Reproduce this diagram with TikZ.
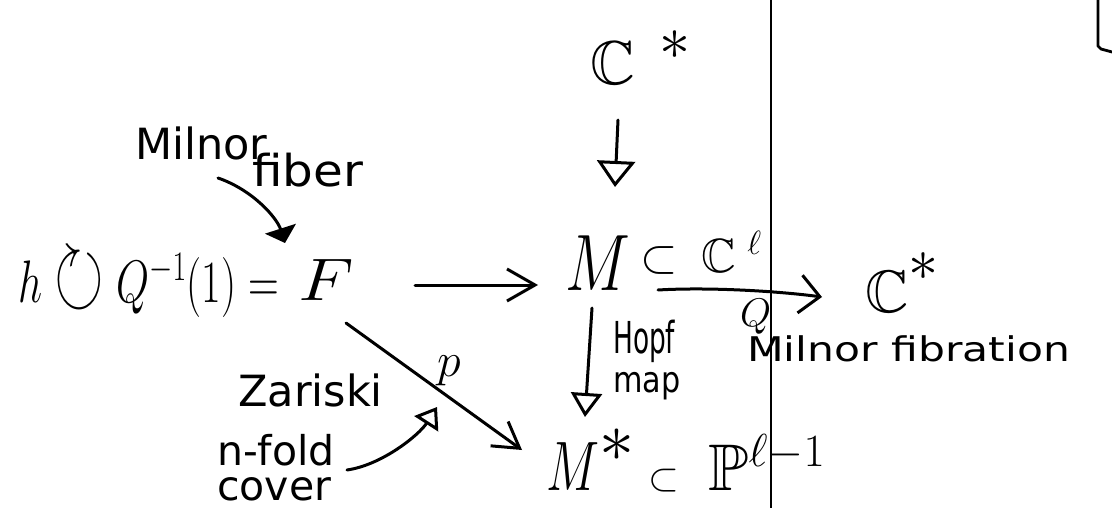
\RequirePackage{fix-cm}
\documentclass[tikz,border=0pt]{standalone}
\usepackage{amssymb}
\usepackage{graphicx}
\usepackage{fontspec}
\newfontfamily\handfont{DejaVu Sans}
\usetikzlibrary{arrows.meta}

\tikzset{
  ink/.style={line width=3pt, line cap=round, line join=round},
  mth/.style={inner sep=0pt, anchor=base west},
  lbl/.style={inner sep=0pt, anchor=base west, font=\handfont\fontsize{44}{44}\selectfont},
}
% a raised, text-size star for superscripts
\newcommand{\hstar}[1]{\raisebox{#1}{$\textstyle\ast$}}

\begin{document}
\begin{tikzpicture}[x=1pt, y=-1pt]
\fill[white] (0,0) rectangle (1112,508);
\useasboundingbox (0,0) rectangle (1112,508);

% dividing rule and corner mark
\draw[line width=2.2pt] (771,0) -- (771,508);
\draw[ink, line width=2.8pt] (1098,0) -- (1098,46) -- (1101,49) -- (1112,52);

% spaces and maps
\node[mth, font=\fontsize{62}{62}\selectfont] (ctop) at (590,85) {$\mathbb{C}^{\mkern10mu\hstar{3pt}}$};
\node[mth, font=\fontsize{80}{80}\selectfont] (M) at (565,290) {$\scalebox{0.77}[1]{$M$}$};
\node[mth, font=\fontsize{48}{48}\selectfont] (Msub) at (640,272) {$\subset\mkern4mu\mathbb{C}^{\mkern6mu\ell}$};
\node[mth, font=\fontsize{60}{60}\selectfont] (F) at (298,300) {$\scalebox{1.2}[1]{$F$}$};
\node[inner sep=0pt, anchor=base east, font=\fontsize{60}{60}\selectfont] (hq) at (279,302)
  {\scalebox{0.71}[1]{$h\mathrel{\scalebox{1.5}{$\circlearrowright$}}Q^{-1}(1)=$}};
\node[mth, font=\fontsize{60}{60}\selectfont] (cright) at (865,312) {$\mathbb{C}^{\hstar{10pt}}$};
\node[mth, font=\fontsize{70}{70}\selectfont] (Ms) at (546,490) {$\scalebox{0.72}[1]{$M$}^{\textstyle\ast}$};
\node[mth, font=\fontsize{66}{66}\selectfont] (Psub) at (648,490) {$\scalebox{0.6}{$\subset$}\mkern8mu\mathbb{P}^{\ell-1}$};

% labels
\node[lbl, font=\handfont\fontsize{43}{43}\selectfont] (milnor) at (135,160) {Milnor};
\node[lbl] (fiber) at (252,187) {\scalebox{1.1}[1]{fiber}};
\node[lbl, font=\handfont\fontsize{44}{44}\selectfont] (hopf) at (613,353) {\scalebox{0.6}[1]{Hopf}};
\node[lbl, font=\handfont\fontsize{36}{36}\selectfont] (map) at (613,392) {\scalebox{0.84}[1]{map}};
\node[inner sep=0pt, anchor=base west, font=\fontsize{40}{40}\selectfont] (qlbl) at (740,326) {$Q$};
\node[lbl, font=\handfont\fontsize{34}{34}\selectfont] (fibration) at (747,361) {\scalebox{1.25}[1]{Milnor fibration}};
\node[inner sep=0pt, anchor=base, font=\fontsize{48}{48}\selectfont] (plbl) at (449,376) {$p$};
\node[lbl, font=\handfont\fontsize{43}{43}\selectfont] (zariski) at (238,406) {Zariski};
\node[inner sep=0pt, anchor=north west, align=left, font=\handfont\fontsize{41}{35}\selectfont]
  (nfold) at (217,434) {n-fold\\cover};

% arrows
\draw[ink, -{Triangle[length=15pt,width=32pt]}]
  ([shift={(83,18)}]milnor.base west) .. controls +(35,12) and +(-8,-25) .. ([shift={(-13,-57)}]F.base west);
\draw[ink, -{Triangle[open,length=26pt,width=38pt]}]
  ([shift={(28,35)}]ctop.base west) -- ([shift={(50,-103)}]M.base west);
\draw[ink, -{Straight Barb[length=28pt,width=32pt]}]
  ([shift={(117,-15)}]F.base west) -- ([shift={(-27,-5)}]M.base west);
\draw[ink, -{Straight Barb[length=25pt,width=30pt]}]
  ([shift={(48,23)}]F.base west) -- ([shift={(-24,-40)}]Ms.base west);
\draw[ink, -{Triangle[open,length=24pt,width=31pt]}]
  ([shift={(27,18)}]M.base west) -- ([shift={(39,-73)}]Ms.base west);
\draw[ink, -{Straight Barb[length=20pt,width=38pt]}]
  ([shift={(18,18)}]Msub.base west) .. controls +(50,-3) and +(-45,-6) .. ([shift={(-43,-15)}]cright.base west);
\draw[ink, -{Triangle[open,length=20pt,width=28pt]}]
  ([shift={(130,36)}]nfold.north west) .. controls +(35,-5) and +(-18,28) .. ([shift={(-12,31)}]plbl.base);
\end{tikzpicture}
\end{document}
